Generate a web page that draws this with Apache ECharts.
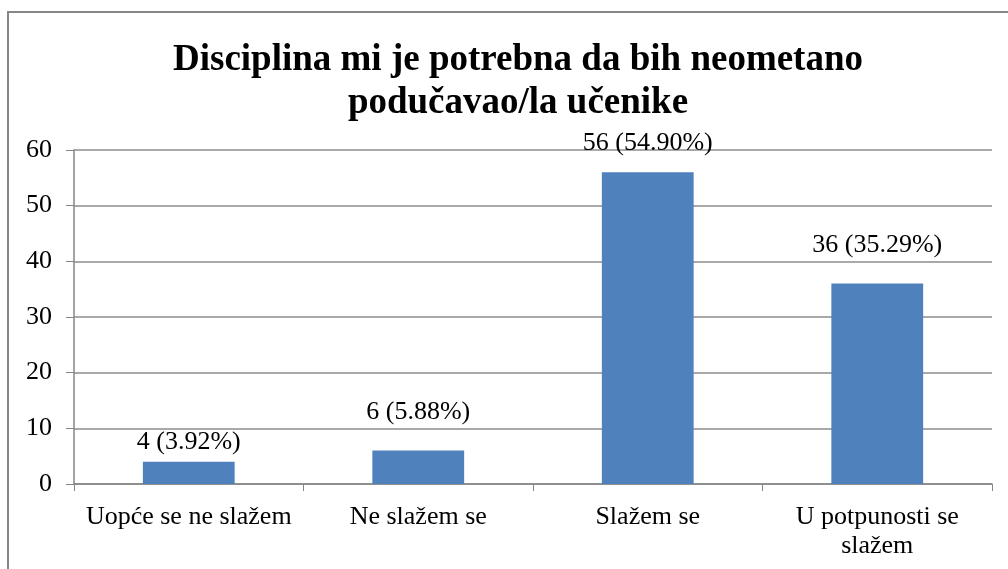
<!DOCTYPE html>
<html>
<head>
<meta charset="utf-8">
<script src="https://cdn.jsdelivr.net/npm/echarts@6/dist/echarts.min.js"></script>
<style>
  html, body { margin: 0; padding: 0; background: #fff; }
  #chart { width: 1008px; height: 569px; }
</style>
</head>
<body>
<div id="chart"></div>
<script>
const titleText = 'Disciplina mi je potrebna da bih neometano\npodučavao/la učenike';
const categories = ['Uopće se ne slažem', 'Ne slažem se', 'Slažem se', 'U potpunosti se\nslažem'];
const counts = [4, 6, 56, 36];
const percents = ['3.92%', '5.88%', '54.90%', '35.29%'];

// label gaps above bars (the original labels were hand-placed)
const labelGaps = [7, 25, 16, 25];

const font = '"Liberation Serif", "Times New Roman", serif';
const chart = echarts.init(document.getElementById('chart'));

const option = {
  animation: false,
  title: {
    text: titleText,
    left: 513,
    top: 34,
    textAlign: 'center',
    textStyle: {
      fontFamily: font,
      fontWeight: 'bold',
      fontSize: 37,
      lineHeight: 43,
      color: '#000'
    }
  },
  grid: {
    left: 74,
    right: 16,
    top: 150,
    bottom: 85
  },
  xAxis: {
    type: 'category',
    data: categories,
    axisLine: { lineStyle: { color: '#868686', width: 1.5 } },
    axisTick: { show: true, interval: 0, length: 7, lineStyle: { color: '#868686' } },
    axisLabel: {
      interval: 0,
      hideOverlap: false,
      fontFamily: font,
      fontSize: 26,
      color: '#000',
      margin: 19,
      lineHeight: 29
    }
  },
  yAxis: {
    type: 'value',
    min: 0,
    max: 60,
    interval: 10,
    axisLine: { show: true, lineStyle: { color: '#868686', width: 1.5 } },
    axisTick: { show: true, length: 8, lineStyle: { color: '#868686' } },
    splitLine: { lineStyle: { color: '#8c8c8c', width: 1.5 } },
    axisLabel: {
      fontFamily: font,
      fontSize: 26,
      color: '#000',
      margin: 22
    }
  },
  series: [{
    type: 'bar',
    barWidth: '40%',
    data: counts.map((v, i) => ({
      value: v,
      label: { distance: labelGaps[i] }
    })),
    itemStyle: { color: '#4f81bd' },
    label: {
      show: true,
      position: 'top',
      fontFamily: font,
      fontSize: 26,
      color: '#000',
      formatter: p => p.value + ' (' + percents[p.dataIndex] + ')'
    }
  }],
  graphic: [{
    type: 'polyline',
    shape: { points: [[8, 569], [8, 12], [1008, 12]] },
    style: { stroke: '#878787', lineWidth: 2, fill: null }
  }]
};

chart.setOption(option);
</script>
</body>
</html>
